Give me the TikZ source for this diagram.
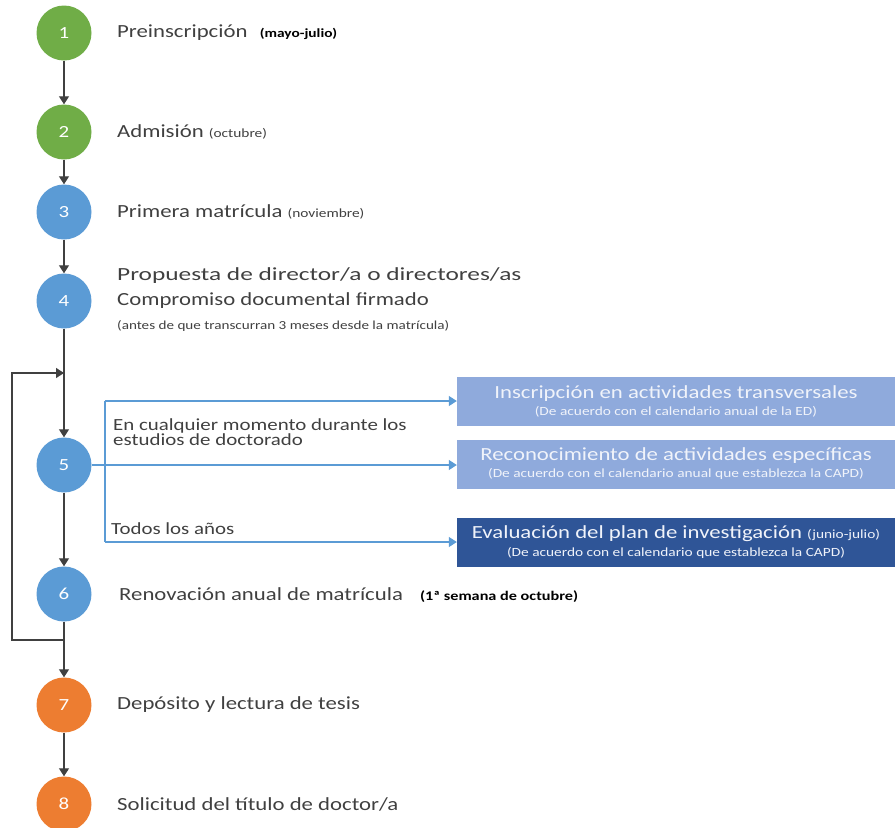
\documentclass[tikz,border=0pt]{standalone}
\usepackage{fontspec}
\usepackage{graphicx}
\setmainfont{Carlito}
\usetikzlibrary{arrows.meta}
\definecolor{verde}{HTML}{70AD47}
\definecolor{azul}{HTML}{5B9BD5}
\definecolor{naranja}{HTML}{ED7D31}
\definecolor{cajaclara}{HTML}{8FAADC}
\definecolor{cajaoscura}{HTML}{2F5597}
\definecolor{texto}{HTML}{404040}
\definecolor{trazo}{HTML}{404040}
\definecolor{blanco}{HTML}{F0F3FA}
\newcommand{\ancho}[2][1.23]{\scalebox{#1}[1]{#2}}
\newcommand{\peq}{\fontsize{12.5}{14}\selectfont}
\begin{document}
\begin{tikzpicture}[x=1pt, y=-1pt,
    paso/.style={circle, minimum size=55pt, inner sep=0pt, text=white, font=\fontsize{17}{17}\selectfont},
    etiqueta/.style={anchor=west, inner sep=0pt, text=texto, font=\fontsize{18.5}{20}\selectfont},
    nota/.style={anchor=west, inner sep=0pt, text=texto, font=\fontsize{12.3}{13}\selectfont},
    caja/.style={minimum width=438pt, minimum height=49pt, inner sep=0pt, align=center, text=blanco},
    flecha/.style={line width=1.3pt, trazo, -{Triangle[width=10pt,length=8pt]}},
    flechaazul/.style={line width=1.3pt, azul, -{Triangle[width=10pt,length=8pt]}}]
	\useasboundingbox (0,0) rectangle (895,828);
	% pasos
	\node[paso, fill=verde] (s1) at (64,33) {\ancho{1}};
	\node[paso, fill=verde] (s2) at (64,132) {\ancho{2}};
	\node[paso, fill=azul] (s3) at (64,212) {\ancho{3}};
	\node[paso, fill=azul] (s4) at (64,301) {\ancho{4}};
	\node[paso, fill=azul] (s5) at (64,465) {\ancho{5}};
	\node[paso, fill=azul] (s6) at (64,594) {\ancho{6}};
	\node[paso, fill=naranja] (s7) at (64,705) {\ancho{7}};
	\node[paso, fill=naranja] (s8) at (64,804) {\ancho{8}};
	% textos
	\node[etiqueta] (l1) at (117,33) {\ancho{Preinscripción\hspace{10pt}{\fontsize{12.5}{14}\selectfont\bfseries\color{black}(mayo-julio)}}};
	\node[etiqueta] (l2) at (117,132) {\ancho{Admisión {\peq(octubre)}}};
	\node[etiqueta] (l3) at (117,212) {\ancho{Primera matrícula {\peq(noviembre)}}};
	\node[etiqueta] (l4a) at (117,276) {\ancho[1.37]{Propuesta de director/a o directores/as}};
	\node[etiqueta] (l4b) at (117,301) {\ancho{Compromiso documental firmado}};
	\node[nota] (l4c) at (117,326) {\ancho{(antes de que transcurran 3 meses desde la matrícula)}};
	\node[etiqueta] (l6) at (119,595) {\ancho{Renovación anual de matrícula\hspace{14pt}{\fontsize{13.2}{14}\selectfont\bfseries\color{black}(1ª semana de octubre)}}};
	\node[etiqueta] (l7) at (117,705) {\ancho{Depósito y lectura de tesis}};
	\node[etiqueta] (l8) at (117,804) {\ancho{Solicitud del título de doctor/a}};
	\node[etiqueta, font=\fontsize{17}{11.5}\selectfont, align=left] (momento) at (113,432) {\ancho{En cualquier momento durante los}\\\ancho{estudios de doctorado}};
	\node[etiqueta, font=\fontsize{17}{18}\selectfont] (anios) at (111,529) {\ancho{Todos los años}};
	% cajas
	\node[caja, fill=cajaclara] (caja1) at (676,401) {{\fontsize{18.5}{20}\selectfont\ancho{Inscripción en actividades transversales}}\\[4pt]{\peq\ancho{(De acuerdo con el calendario anual de la ED)}}};
	\node[caja, fill=cajaclara] (caja2) at (676,464) {{\fontsize{18.5}{20}\selectfont\ancho{Reconocimiento de actividades específicas}}\\[4pt]{\peq\ancho{(De acuerdo con el calendario anual que establezca la CAPD)}}};
	\node[caja, fill=cajaoscura] (caja3) at (676,542) {{\fontsize{18.5}{20}\selectfont\ancho{Evaluación del plan de investigación {\peq(junio-julio)}}}\\[4pt]{\peq\ancho{(De acuerdo con el calendario que establezca la CAPD)}}};
	% flechas
	\draw[flecha] (s1) -- (s2);
	\draw[flecha] (s2) -- (s3);
	\draw[flecha] (s3) -- (s4);
	\draw[flecha] (s4) -- (s5);
	\draw[flecha] (s5) -- (s6);
	\draw[flecha] (s6) -- (s7);
	\draw[flecha] (s7) -- (s8);
	\coordinate (rama) at (64,640);
	\coordinate (esq1) at (12,640);
	\coordinate (esq2) at (12,373);
	\coordinate (union) at (64,373);
	\draw[flecha] (rama) -- (esq1) -- (esq2) -- (union);
	\coordinate (bifur) at (105,465);
	\draw[flechaazul] (s5.east) -- (s5.east -| caja2.west);
	\draw[line width=1.3pt, azul] (caja1.west -| bifur) -- (caja3.west -| bifur);
	\draw[flechaazul] (caja1.west -| bifur) -- (caja1.west);
	\draw[flechaazul] (caja3.west -| bifur) -- (caja3.west);
\end{tikzpicture}
\end{document}
